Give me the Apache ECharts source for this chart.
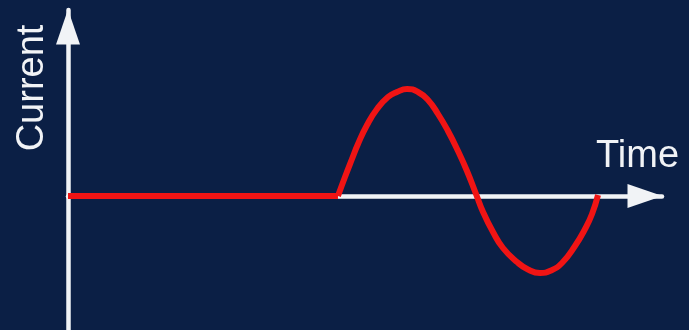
<!DOCTYPE html>
<html>
<head>
<meta charset="utf-8">
<style>
  html, body { margin: 0; padding: 0; background: #0b1f45; }
  #chart { width: 689px; height: 330px; }
</style>
<script src="https://cdn.jsdelivr.net/npm/echarts@6/dist/echarts.min.js"></script>
</head>
<body>
<div id="chart"></div>
<script>
// Current stays at zero, then one cycle of alternating current flows.
const flatTime = [0, 4.545];
const flatCurrent = [0, 0];

const waveTime = [4.545, 4.663, 4.781, 4.882, 5.034, 5.202, 5.387, 5.539, 5.707, 5.892,
                  6.061, 6.229, 6.397, 6.566, 6.717, 6.869, 6.987, 7.155, 7.323, 7.559,
                  7.744, 7.946, 8.131, 8.316, 8.535, 8.704, 8.822, 8.923];
const waveCurrent = [0, 0.19, 0.37, 0.52, 0.71, 0.87, 0.99, 1.04, 1.07, 1.04,
                     0.96, 0.82, 0.65, 0.45, 0.25, 0.02, -0.16, -0.36, -0.52, -0.66,
                     -0.735, -0.77, -0.745, -0.67, -0.50, -0.33, -0.18, 0.01];

const axisTitles = { y: 'Current', x: 'Time' };

const pair = (xs, ys) => xs.map((x, i) => [x, ys[i]]);

const chart = echarts.init(document.getElementById('chart'));

const axisColor = '#f1f3f6';
const arrowLine = {
  show: true,
  onZero: true,
  symbol: ['none', 'triangle'],
  symbolSize: [24, 35],
  symbolOffset: [0, -17],
  lineStyle: { color: axisColor, width: 4.5 }
};

const traceStyle = { color: '#f01414', width: 6 };

chart.setOption({
  backgroundColor: '#0b1f45',
  animation: false,
  grid: { left: 68, right: 27, top: 10, bottom: 0 },
  xAxis: {
    type: 'value',
    min: 0,
    max: 10,
    axisLine: arrowLine,
    axisTick: { show: false },
    axisLabel: { show: false },
    splitLine: { show: false }
  },
  yAxis: {
    type: 'value',
    min: -1.34,
    max: 1.86,
    axisLine: Object.assign({}, arrowLine, { onZero: false }),
    axisTick: { show: false },
    axisLabel: { show: false },
    splitLine: { show: false }
  },
  graphic: [
    {
      type: 'text',
      x: 33,
      y: 88,
      rotation: Math.PI / 2,
      style: {
        text: axisTitles.y,
        fill: axisColor,
        font: '38px "Liberation Sans", Arial, sans-serif',
        textAlign: 'center',
        textVerticalAlign: 'middle'
      }
    },
    {
      type: 'text',
      x: 596,
      y: 157,
      style: {
        text: axisTitles.x,
        fill: axisColor,
        font: '38px "Liberation Sans", Arial, sans-serif',
        textAlign: 'left',
        textVerticalAlign: 'middle'
      }
    }
  ],
  series: [
    {
      type: 'line',
      data: pair(flatTime, flatCurrent),
      showSymbol: false,
      lineStyle: traceStyle,
      z: 5
    },
    {
      type: 'line',
      data: pair(waveTime, waveCurrent),
      smooth: 0.5,
      showSymbol: false,
      lineStyle: traceStyle,
      z: 5
    }
  ]
});
</script>
</body>
</html>
